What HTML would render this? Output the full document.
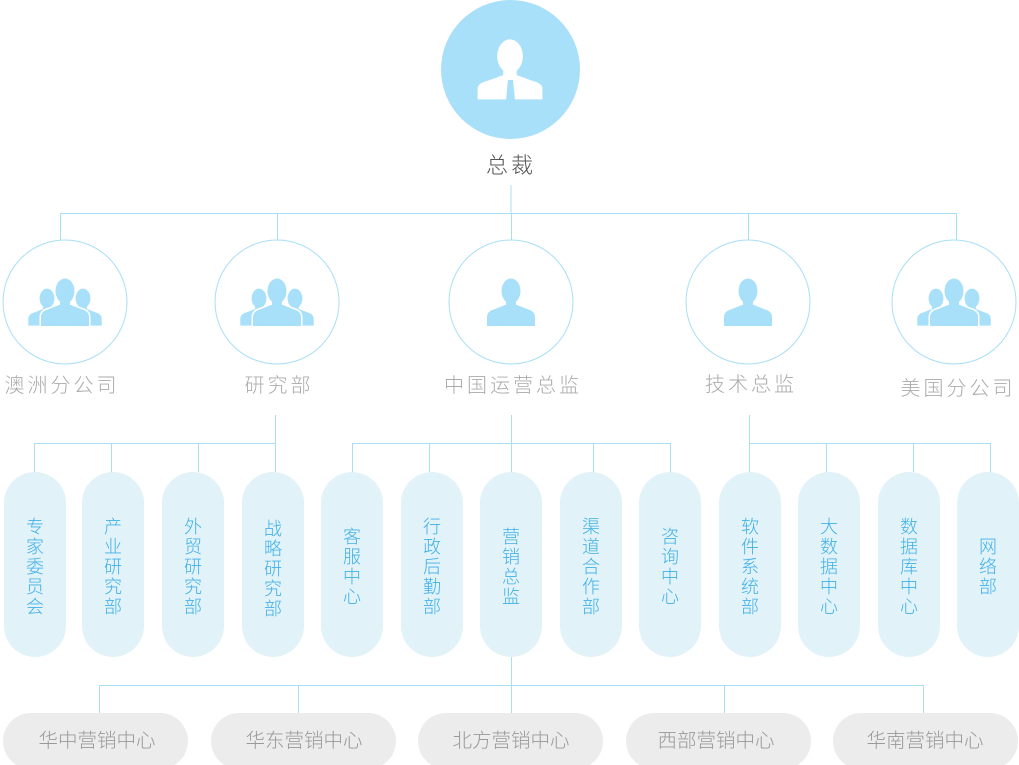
<!DOCTYPE html>
<html><head><meta charset="utf-8"><style>
html,body{margin:0;padding:0;background:#fff;}
svg{display:block;font-family:"Liberation Sans","Noto Sans CJK SC",sans-serif;}
text{font-weight:300;}
</style></head><body>
<svg width="1019" height="765" viewBox="0 0 1019 765" xmlns="http://www.w3.org/2000/svg">
<defs>
<g id="p">
<ellipse cx="0" cy="12" rx="9.5" ry="12.5"/>
<rect x="-5" y="18" width="10" height="10"/>
<path d="M-24,47 L-24,38 Q-24,32 -16,30 L-6,26 L6,26 L16,30 Q24,32 24,38 L24,47 Z"/>
</g>
<g id="g">
<g transform="translate(-18,10) scale(0.78)"><use href="#p"/></g>
<g transform="translate(18,10) scale(0.78)"><use href="#p"/></g>
<g stroke="#fff" stroke-width="3"><use href="#p"/></g>
<use href="#p"/>
</g>
</defs>

<g stroke="#a8dff5" stroke-width="1" fill="none">
<line x1="511" y1="185" x2="511" y2="213"/>
<line x1="60" y1="213.5" x2="956" y2="213.5"/>
<line x1="60.5" y1="213" x2="60.5" y2="240"/>
<line x1="277.5" y1="213" x2="277.5" y2="240"/>
<line x1="511.5" y1="213" x2="511.5" y2="240"/>
<line x1="748.5" y1="213" x2="748.5" y2="240"/>
<line x1="956.5" y1="213" x2="956.5" y2="240"/>

<line x1="275.5" y1="415" x2="275.5" y2="472"/>
<line x1="34" y1="443.5" x2="276" y2="443.5"/>
<line x1="34.5" y1="443" x2="34.5" y2="472"/>
<line x1="111.5" y1="443" x2="111.5" y2="472"/>
<line x1="198.5" y1="443" x2="198.5" y2="472"/>

<line x1="511.5" y1="415" x2="511.5" y2="472"/>
<line x1="352" y1="443.5" x2="671" y2="443.5"/>
<line x1="352.5" y1="443" x2="352.5" y2="472"/>
<line x1="429.5" y1="443" x2="429.5" y2="472"/>
<line x1="593.5" y1="443" x2="593.5" y2="472"/>
<line x1="670.5" y1="443" x2="670.5" y2="472"/>

<line x1="749.5" y1="415" x2="749.5" y2="472"/>
<line x1="749" y1="443.5" x2="991" y2="443.5"/>
<line x1="826.5" y1="443" x2="826.5" y2="472"/>
<line x1="913.5" y1="443" x2="913.5" y2="472"/>
<line x1="990.5" y1="443" x2="990.5" y2="472"/>

<line x1="511.5" y1="657" x2="511.5" y2="713"/>
<line x1="99" y1="685.5" x2="924" y2="685.5"/>
<line x1="99.5" y1="685" x2="99.5" y2="713"/>
<line x1="298.5" y1="685" x2="298.5" y2="713"/>
<line x1="724.5" y1="685" x2="724.5" y2="713"/>
<line x1="923.5" y1="685" x2="923.5" y2="713"/>
</g>

<circle cx="510.5" cy="69.5" r="69.5" fill="#a8e0fa"/>
<g fill="#fff" transform="translate(510,40) scale(1.35)">
<ellipse cx="0" cy="12" rx="9.5" ry="12.5"/>
<rect x="-5" y="18" width="10" height="10"/>
<path d="M-24,44 L-24,36 Q-24,32 -16,30 L-5,26 L5,26 L16,30 Q24,32 24,36 L24,44 Z"/>
</g>
<path d="M508,80 L513,80 L515,100 L510.5,100 L506,100 Z" fill="#a8e0fa"/>
<text x="511" y="173" font-size="22" fill="#555" text-anchor="middle" letter-spacing="3">总裁</text>

<g fill="#fff" stroke="#a8dff5" stroke-width="1">
<circle cx="65" cy="302" r="62"/>
<circle cx="277" cy="302" r="62"/>
<circle cx="511" cy="302" r="62"/>
<circle cx="748" cy="302" r="62"/>
<circle cx="954" cy="302" r="62"/>
</g>
<g fill="#a8e0fa">
<g transform="translate(65,279)"><use href="#g"/></g>
<g transform="translate(277,279)"><use href="#g"/></g>
<g transform="translate(511,279)"><use href="#p"/></g>
<g transform="translate(748,279)"><use href="#p"/></g>
<g transform="translate(954,279)"><use href="#g"/></g>
</g>
<g font-size="20" fill="#aaa" text-anchor="middle" letter-spacing="3">
<text x="62" y="392">澳洲分公司</text>
<text x="279" y="392">研究部</text>
<text x="513" y="392">中国运营总监</text>
<text x="751" y="391">技术总监</text>
<text x="958" y="395">美国分公司</text>
</g>

<g fill="#e1f2f9">
<rect x="4" y="472" width="62" height="185" rx="31"/>
<rect x="82" y="472" width="62" height="185" rx="31"/>
<rect x="162" y="472" width="62" height="185" rx="31"/>
<rect x="242" y="472" width="62" height="185" rx="31"/>
<rect x="321" y="472" width="62" height="185" rx="31"/>
<rect x="401" y="472" width="62" height="185" rx="31"/>
<rect x="480" y="472" width="62" height="185" rx="31"/>
<rect x="560" y="472" width="62" height="185" rx="31"/>
<rect x="639" y="472" width="62" height="185" rx="31"/>
<rect x="719" y="472" width="62" height="185" rx="31"/>
<rect x="798" y="472" width="62" height="185" rx="31"/>
<rect x="878" y="472" width="62" height="185" rx="31"/>
<rect x="957" y="472" width="62" height="185" rx="31"/>
</g>
<g font-size="18" fill="#3fb0e8" text-anchor="middle">
<text x="35" y="533"><tspan x="35">专</tspan><tspan x="35" dy="20">家</tspan><tspan x="35" dy="20">委</tspan><tspan x="35" dy="20">员</tspan><tspan x="35" dy="20">会</tspan></text>
<text x="113" y="533"><tspan x="113">产</tspan><tspan x="113" dy="20">业</tspan><tspan x="113" dy="20">研</tspan><tspan x="113" dy="20">究</tspan><tspan x="113" dy="20">部</tspan></text>
<text x="193" y="533"><tspan x="193">外</tspan><tspan x="193" dy="20">贸</tspan><tspan x="193" dy="20">研</tspan><tspan x="193" dy="20">究</tspan><tspan x="193" dy="20">部</tspan></text>
<text x="273" y="535"><tspan x="273">战</tspan><tspan x="273" dy="20">略</tspan><tspan x="273" dy="20">研</tspan><tspan x="273" dy="20">究</tspan><tspan x="273" dy="20">部</tspan></text>
<text x="352" y="543"><tspan x="352">客</tspan><tspan x="352" dy="20">服</tspan><tspan x="352" dy="20">中</tspan><tspan x="352" dy="20">心</tspan></text>
<text x="432" y="533"><tspan x="432">行</tspan><tspan x="432" dy="20">政</tspan><tspan x="432" dy="20">后</tspan><tspan x="432" dy="20">勤</tspan><tspan x="432" dy="20">部</tspan></text>
<text x="511" y="543"><tspan x="511">营</tspan><tspan x="511" dy="20">销</tspan><tspan x="511" dy="20">总</tspan><tspan x="511" dy="20">监</tspan></text>
<text x="591" y="533"><tspan x="591">渠</tspan><tspan x="591" dy="20">道</tspan><tspan x="591" dy="20">合</tspan><tspan x="591" dy="20">作</tspan><tspan x="591" dy="20">部</tspan></text>
<text x="670" y="543"><tspan x="670">咨</tspan><tspan x="670" dy="20">询</tspan><tspan x="670" dy="20">中</tspan><tspan x="670" dy="20">心</tspan></text>
<text x="750" y="533"><tspan x="750">软</tspan><tspan x="750" dy="20">件</tspan><tspan x="750" dy="20">系</tspan><tspan x="750" dy="20">统</tspan><tspan x="750" dy="20">部</tspan></text>
<text x="829" y="533"><tspan x="829">大</tspan><tspan x="829" dy="20">数</tspan><tspan x="829" dy="20">据</tspan><tspan x="829" dy="20">中</tspan><tspan x="829" dy="20">心</tspan></text>
<text x="909" y="533"><tspan x="909">数</tspan><tspan x="909" dy="20">据</tspan><tspan x="909" dy="20">库</tspan><tspan x="909" dy="20">中</tspan><tspan x="909" dy="20">心</tspan></text>
<text x="988" y="553"><tspan x="988">网</tspan><tspan x="988" dy="20">络</tspan><tspan x="988" dy="20">部</tspan></text>
</g>

<g fill="#ececec">
<rect x="3" y="713" width="185" height="56" rx="28"/>
<rect x="211" y="713" width="185" height="56" rx="28"/>
<rect x="418" y="713" width="185" height="56" rx="28"/>
<rect x="626" y="713" width="185" height="56" rx="28"/>
<rect x="833" y="713" width="185" height="56" rx="28"/>
</g>
<g font-size="19.5" fill="#999" text-anchor="middle">
<text x="97" y="747">华中营销中心</text>
<text x="304" y="747">华东营销中心</text>
<text x="511" y="747">北方营销中心</text>
<text x="716" y="747">西部营销中心</text>
<text x="925" y="747">华南营销中心</text>
</g>
</svg>
</body></html>
